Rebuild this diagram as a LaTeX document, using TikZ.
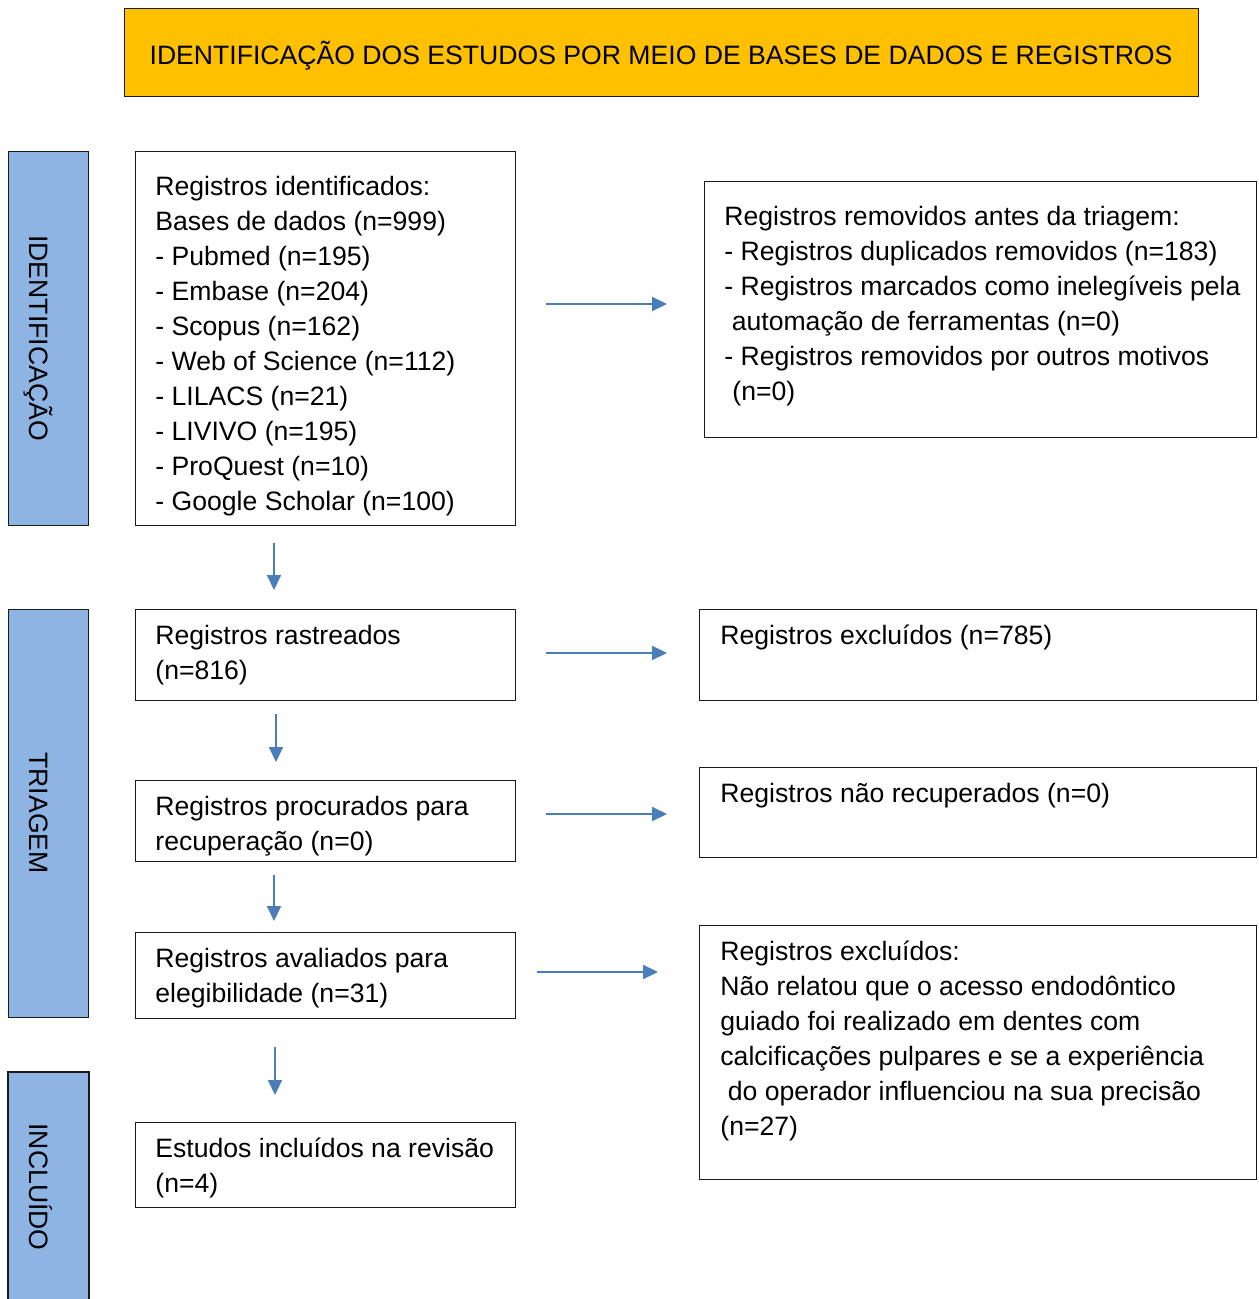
\documentclass[tikz,border=0pt]{standalone}
\usepackage{fontspec}
\setmainfont{Liberation Sans}
\usetikzlibrary{arrows.meta}
\definecolor{titlefill}{HTML}{FFC000}
\definecolor{barfill}{HTML}{8EB4E3}
\definecolor{arrowblue}{HTML}{4A7EBB}
\definecolor{edge}{HTML}{1A1A1A}
\tikzset{
  box/.style={draw=edge, line width=0.7pt, fill=white, inner sep=0pt, anchor=north west},
  bar/.style={draw=edge, line width=0.7pt, fill=barfill, inner sep=0pt, anchor=north west},
  txt/.style={inner sep=0pt, anchor=base west, font=\fontsize{13.3pt}{17.5pt}\selectfont},
  vtxt/.style={inner sep=0pt, anchor=base, rotate=-90, font=\fontsize{13.3pt}{17.5pt}\selectfont},
  arr/.style={draw=arrowblue, line width=1pt, -{Triangle[length=7.5pt,width=7pt]}}
}
\newcommand{\lines}[1]{\parbox[t]{300pt}{\raggedright #1}}
\begin{document}
\begin{tikzpicture}[x=0.5pt,y=-0.5pt]
\useasboundingbox (0,0) rectangle (1258,1299);
% title
\node[box, fill=titlefill, minimum width=537pt, minimum height=44pt] (title) at (124,8) {};
\node[inner sep=0pt, anchor=base, font=\fontsize{13.3pt}{17.5pt}\selectfont] (titletxt) at (661,65) {IDENTIFICAÇÃO DOS ESTUDOS POR MEIO DE BASES DE DADOS E REGISTROS};
% side bars
\node[bar, minimum width=40pt, minimum height=187pt] (barid) at (8,151) {};
\node[vtxt] (baridtxt) at (29,338) {IDENTIFICAÇÃO};
\node[bar, minimum width=40pt, minimum height=204pt] (bartri) at (8,609) {};
\node[vtxt] (bartritxt) at (29,813) {TRIAGEM};
\node[fill=barfill, inner sep=0pt, anchor=north west, minimum width=40pt, minimum height=114pt] (barinc) at (8,1072) {};
\draw[draw=edge, line width=0.7pt] (barinc.south west) -- (barinc.north west) -- (barinc.north east) -- (barinc.south east);
\node[vtxt] (barinctxt) at (29,1187) {INCLUÍDO};
% left column boxes
\node[box, minimum width=190pt, minimum height=187pt] (ident) at (135,151) {};
\node[txt] (identtxt) at (155,196) {\lines{Registros identificados:\\Bases de dados (n=999)\\- Pubmed (n=195)\\- Embase (n=204)\\- Scopus (n=162)\\- Web of Science (n=112)\\- LILACS (n=21)\\- LIVIVO (n=195)\\- ProQuest (n=10)\\- Google Scholar (n=100)}};
\node[box, minimum width=190pt, minimum height=45.5pt] (rastr) at (135,609) {};
\node[txt] (rastrtxt) at (155,644) {\lines{Registros rastreados\\(n=816)}};
\node[box, minimum width=190pt, minimum height=40.5pt] (procur) at (135,780) {};
\node[txt] (procurtxt) at (155,815) {\lines{Registros procurados para\\recuperação (n=0)}};
\node[box, minimum width=190pt, minimum height=43pt] (aval) at (135,932) {};
\node[txt] (avaltxt) at (155,967) {\lines{Registros avaliados para\\elegibilidade (n=31)}};
\node[box, minimum width=190pt, minimum height=42.5pt] (incl) at (135,1122) {};
\node[txt] (incltxt) at (155,1157) {\lines{Estudos incluídos na revisão\\(n=4)}};
% right column boxes
\node[box, minimum width=276pt, minimum height=128pt] (remov) at (704,181) {};
\node[txt] (removtxt) at (724,226) {\lines{Registros removidos antes da triagem:\\- Registros duplicados removidos (n=183)\\- Registros marcados como inelegíveis pela\\\hspace*{3.7pt}automação de ferramentas (n=0)\\- Registros removidos por outros motivos\\\hspace*{4pt}(n=0)}};
\node[box, minimum width=278.5pt, minimum height=45.5pt] (excl1) at (699,609) {};
\node[txt] (excl1txt) at (720,644) {\lines{Registros excluídos (n=785)}};
\node[box, minimum width=278.5pt, minimum height=45pt] (naorec) at (699,767) {};
\node[txt] (naorectxt) at (720,802) {\lines{Registros não recuperados (n=0)}};
\node[box, minimum width=278.5pt, minimum height=127pt] (excl2) at (699,925) {};
\node[txt] (excl2txt) at (720,960) {\lines{Registros excluídos:\\Não relatou que o acesso endodôntico\\guiado foi realizado em dentes com\\calcificações pulpares e se a experiência\\\hspace*{3.7pt}do operador influenciou na sua precisão\\(n=27)}};
% arrow ends
\coordinate (h1s) at (546,304); \coordinate (h1e) at (667,304);
\coordinate (h2s) at (546,653); \coordinate (h2e) at (667,653);
\coordinate (h3s) at (546,814); \coordinate (h3e) at (667,814);
\coordinate (h4s) at (537,972); \coordinate (h4e) at (658,972);
\coordinate (v1s) at (274,543); \coordinate (v1e) at (274,590);
\coordinate (v2s) at (276,714); \coordinate (v2e) at (276,762);
\coordinate (v3s) at (274,875); \coordinate (v3e) at (274,921);
\coordinate (v4s) at (275,1047); \coordinate (v4e) at (275,1095);
\draw[arr] (h1s) -- (h1e);
\draw[arr] (h2s) -- (h2e);
\draw[arr] (h3s) -- (h3e);
\draw[arr] (h4s) -- (h4e);
\draw[arr] (v1s) -- (v1e);
\draw[arr] (v2s) -- (v2e);
\draw[arr] (v3s) -- (v3e);
\draw[arr] (v4s) -- (v4e);
\end{tikzpicture}
\end{document}
